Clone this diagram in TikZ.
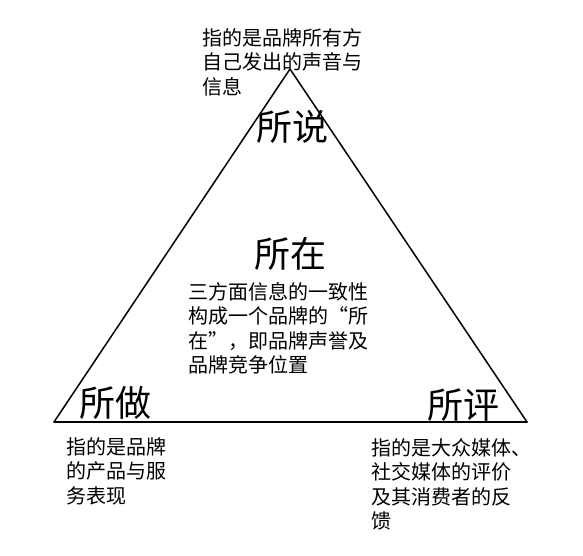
\documentclass[tikz,border=0pt]{standalone}
\usepackage{fontspec}
\newfontfamily\cjk{Noto Sans CJK SC}

\begin{document}
\begin{tikzpicture}
  [x=1pt,y=-1pt,every node/.style={inner sep=0pt,font=\cjk},
   note/.style={anchor=north west,align=left,font=\cjk\fontsize{20}{24.5}\selectfont},
   tag/.style={font=\cjk\fontsize{36}{40}\selectfont}]
  \useasboundingbox (0,0) rectangle (583,555);
  \coordinate (t) at (290,69);
  \coordinate (l) at (54,422);
  \coordinate (r) at (527,422);
  \foreach \from/\to in {l/r,r/t,t/l}
    \draw [line width=1.5pt,line cap=round] (\from) -- (\to);
  \node [tag] (say) at (292,127) {所说};
  \node [tag] (be) at (290,254) {所在};
  \node [tag] (do) at (115,403) {所做};
  \node [tag] (judge) at (463,405) {所评};
  \node [note] (saynote) at (202,28) {指的是品牌所有方\\自己发出的声音与\\信息};
  \node [note] (benote) at (188,282) {三方面信息的一致性\\构成一个品牌的“所\\在”，即品牌声誉及\\品牌竞争位置};
  \node [note] (donote) at (66,437) {指的是品牌\\的产品与服\\务表现};
  \node [note] (judgenote) at (371,438) {指的是大众媒体、\\社交媒体的评价\\及其消费者的反\\馈};
\end{tikzpicture}
\end{document}
